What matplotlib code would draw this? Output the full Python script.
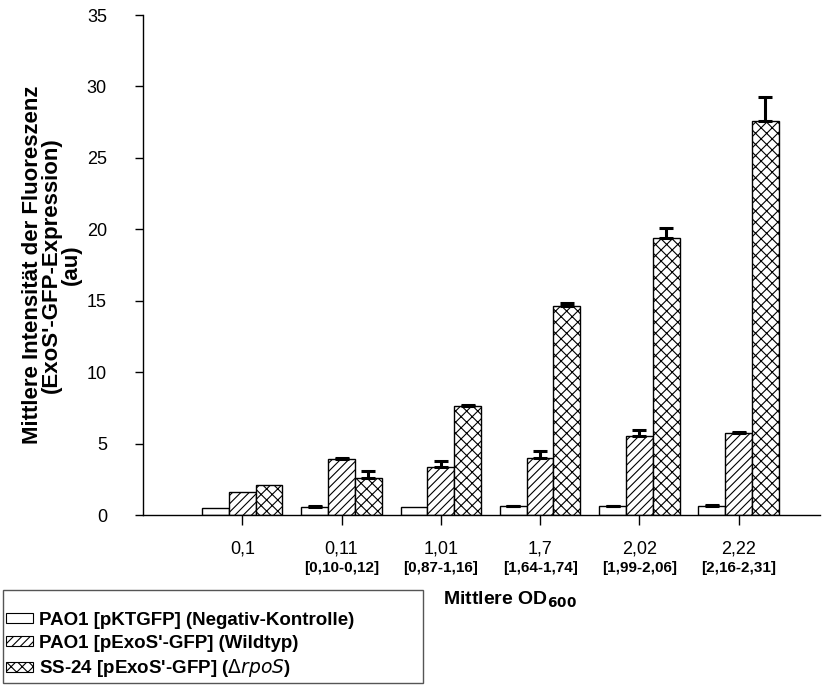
import numpy as np
import matplotlib
matplotlib.use("Agg")
from matplotlib import pyplot as plt
from matplotlib.patches import Patch, Rectangle

plt.rcParams["font.family"] = ["Liberation Sans", "DejaVu Sans"]
plt.rcParams["hatch.linewidth"] = 0.8

# data
od_labels = ["0,1", "0,11", "1,01", "1,7", "2,02", "2,22"]
od_ranges = ["", "[0,10-0,12]", "[0,87-1,16]", "[1,64-1,74]", "[1,99-2,06]", "[2,16-2,31]"]

neg_ctrl = [0.51, 0.58, 0.56, 0.60, 0.60, 0.62]
neg_ctrl_err = [0.0, 0.04, 0.0, 0.05, 0.05, 0.05]
wildtyp = [1.63, 3.90, 3.36, 4.00, 5.50, 5.73]
wildtyp_err = [0.0, 0.06, 0.40, 0.50, 0.42, 0.06]
rpos = [2.10, 2.61, 7.60, 14.62, 19.40, 27.60]
rpos_err = [0.0, 0.50, 0.08, 0.25, 0.68, 1.67]

series_names = ["PAO1 [pKTGFP] (Negativ-Kontrolle)",
                "PAO1 [pExoS'-GFP] (Wildtyp)",
                "SS-24 [pExoS'-GFP] ($\\mathit{\\Delta rpoS}$)"]
hatches = ["", "////", "xxx"]

W, H = 827, 691
fig = plt.figure(figsize=(W / 100, H / 100), dpi=100)
ax = fig.add_axes([143 / W, 1 - 515 / H, 677 / W, 500 / H])

x = np.arange(1, len(od_labels) + 1)
width = 0.27
all_vals = [neg_ctrl, wildtyp, rpos]
all_errs = [neg_ctrl_err, wildtyp_err, rpos_err]
for k, (vals, errs) in enumerate(zip(all_vals, all_errs)):
    pos = x + (k - 1) * width
    ax.bar(pos, vals, width, color="white", edgecolor="black",
           linewidth=1.0, hatch=hatches[k], zorder=2)
    errs = np.array(errs)
    mask = errs > 0
    # only the upper half of the error bar is shown
    ax.errorbar(pos[mask], np.array(vals)[mask],
                yerr=[np.zeros(mask.sum()), errs[mask]],
                fmt="none", ecolor="black", elinewidth=2.2,
                capsize=4.7, capthick=2.2, zorder=3)

ax.set_xlim(0, 6.82)
ax.set_ylim(0, 35)
ax.set_yticks(np.arange(0, 36, 5))
ax.set_xticks(x)
ax.set_xticklabels(od_labels)
ax.tick_params(axis="y", direction="out", length=6, width=1, pad=20, labelsize=13)
ax.tick_params(axis="x", direction="out", length=7, width=1, pad=11, labelsize=13)
for s in ["top", "right"]:
    ax.spines[s].set_visible(False)
for s in ["left", "bottom"]:
    ax.spines[s].set_linewidth(1.0)

for xi, r in zip(x, od_ranges):
    ax.text(xi, -0.106, r, transform=ax.get_xaxis_transform(),
            ha="center", va="center", fontsize=11, fontweight="bold")

ax.set_ylabel("Mittlere Intensität der Fluoreszenz\n(ExoS'-GFP-Expression)\n(au)",
              fontsize=16, fontweight="bold", linespacing=0.92)
ax.yaxis.set_label_coords(-0.09, 0.5)

fig.text(443 / W, 1 - 600 / H, "Mittlere OD$_{\\mathbf{600}}$",
         fontsize=14, fontweight="bold", ha="left", va="center")

# legend box drawn separately so its size matches the reference
fig.patches.append(Rectangle((3 / W, 1 - 683 / H), 420 / W, 93 / H,
                             transform=fig.transFigure, facecolor="white",
                             edgecolor="#555555", linewidth=1.0, zorder=1))
handles = [Patch(facecolor="white", edgecolor="black", linewidth=0.8, hatch=h)
           for h in hatches]
leg = fig.legend(handles, series_names, loc="upper left",
                 bbox_to_anchor=(6 / W, 1 - 612 / H), frameon=False,
                 prop={"weight": "bold", "size": 13.5}, handlelength=1.45,
                 handleheight=0.45, handletextpad=0.3, labelspacing=0.3,
                 borderaxespad=0, borderpad=0)

fig.savefig("out.png", dpi=100)
